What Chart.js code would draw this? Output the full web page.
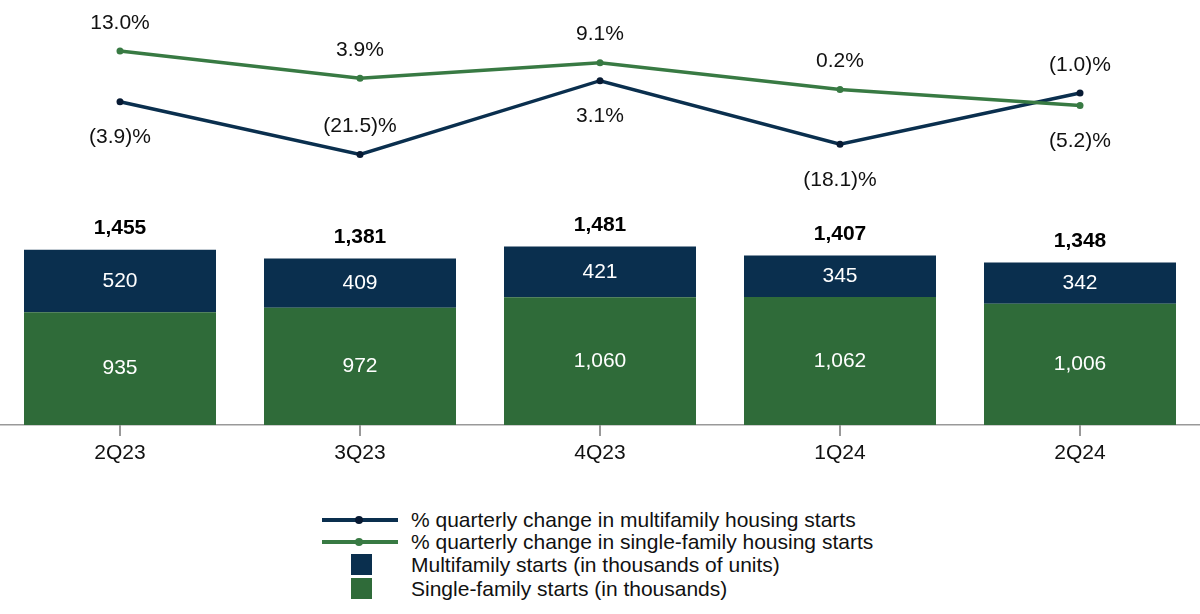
<!DOCTYPE html>
<html>
<head>
<meta charset="utf-8">
<script src="https://cdn.jsdelivr.net/npm/chart.js@4.4.1/dist/chart.umd.min.js"></script>
<style>
  html, body { margin: 0; padding: 0; background: #fff; }
  #wrap { position: relative; width: 1200px; height: 614px; font-family: 'Liberation Sans', Arial, sans-serif; }
  #chartBox { position: absolute; left: 0; top: 0; width: 1200px; height: 464px; }
  .lg-row { position: absolute; left: 0; height: 24px; width: 1200px; }
  .lg-text { position: absolute; left: 411px; top: 0; font-size: 21px; line-height: 24px; color: #111; white-space: nowrap; }
  .lg-line { position: absolute; left: 322px; top: 10px; width: 76px; height: 4px; }
  .lg-dot { position: absolute; left: 33px; top: -2px; width: 8px; height: 8px; border-radius: 50%; }
  .lg-box { position: absolute; left: 351px; top: 1px; width: 21px; height: 21px; }
</style>
</head>
<body>
<div id="wrap">
  <div id="chartBox"><canvas id="c"></canvas></div>
  <div id="legend"></div>
</div>
<script>
const categories = ['2Q23', '3Q23', '4Q23', '1Q24', '2Q24'];
const singleFamilyStarts = [935, 972, 1060, 1062, 1006];
const multifamilyStarts = [520, 409, 421, 345, 342];
const totalStarts = [1455, 1381, 1481, 1407, 1348];
const multifamilyChangePct = [-3.9, -21.5, 3.1, -18.1, -1.0];
const singleFamilyChangePct = [13.0, 3.9, 9.1, 0.2, -5.2];
// label placement for percentage labels
const multiLabelPos = ['below', 'above', 'below', 'below', 'above'];
const singleLabelPos = ['above', 'above', 'above', 'above', 'below'];

const NAVY = '#0A2F4E';
const NAVY_PT = '#071A33';
const GREEN = '#2F6B39';
const GREEN_LINE = '#387A43';
const AXIS = '#999999';
const FONT = "'Liberation Sans', Arial, sans-serif";
const FS = 21;

function fmtPct(v) {
  return v < 0 ? '(' + Math.abs(v).toFixed(1) + ')%' : v.toFixed(1) + '%';
}
function fmtNum(v) { return v.toLocaleString('en-US'); }

const labelPlugin = {
  id: 'labels',
  afterDraw(chart) {
    const ctx = chart.ctx;
    const bottom = chart.chartArea.bottom;
    ctx.save();
    ctx.strokeStyle = AXIS;
    ctx.lineWidth = 2;
    chart.getDatasetMeta(0).data.forEach(el => {
      const x = Math.round(el.x);
      ctx.beginPath();
      ctx.moveTo(x, bottom);
      ctx.lineTo(x, bottom + 11);
      ctx.stroke();
    });
    ctx.restore();
  },
  afterDatasetsDraw(chart) {
    const ctx = chart.ctx;
    ctx.save();
    ctx.textAlign = 'center';
    ctx.textBaseline = 'middle';
    [0, 1].forEach(di => {
      const meta = chart.getDatasetMeta(di);
      const data = chart.data.datasets[di].data;
      meta.data.forEach((el, i) => {
        const p = el.getProps(['x', 'y', 'base'], true);
        ctx.font = FS + 'px ' + FONT;
        ctx.fillStyle = '#ffffff';
        ctx.fillText(fmtNum(data[i]), p.x, (p.y + p.base) / 2);
      });
    });
    const topMeta = chart.getDatasetMeta(1);
    topMeta.data.forEach((el, i) => {
      const p = el.getProps(['x', 'y'], true);
      ctx.font = 'bold ' + FS + 'px ' + FONT;
      ctx.fillStyle = '#000000';
      ctx.fillText(fmtNum(totalStarts[i]), p.x, p.y - 21);
    });
    const lineSets = [[2, multiLabelPos], [3, singleLabelPos]];
    lineSets.forEach(([di, pos]) => {
      const meta = chart.getDatasetMeta(di);
      const data = chart.data.datasets[di].data;
      meta.data.forEach((el, i) => {
        const p = el.getProps(['x', 'y'], true);
        ctx.font = FS + 'px ' + FONT;
        ctx.fillStyle = '#111111';
        const dy = pos[i] === 'above' ? -28 : 36;
        ctx.fillText(fmtPct(data[i]), p.x, p.y + dy);
      });
    });
    ctx.restore();
  }
};

new Chart(document.getElementById('c'), {
  data: {
    labels: categories,
    datasets: [
      { type: 'bar', label: 'Single-family starts (in thousands)', data: singleFamilyStarts,
        backgroundColor: GREEN, yAxisID: 'y', order: 2, barPercentage: 0.8, categoryPercentage: 1.0 },
      { type: 'bar', label: 'Multifamily starts (in thousands of units)', data: multifamilyStarts,
        backgroundColor: NAVY, yAxisID: 'y', order: 3, barPercentage: 0.8, categoryPercentage: 1.0 },
      { type: 'line', label: '% quarterly change in multifamily housing starts', data: multifamilyChangePct,
        borderColor: NAVY, borderWidth: 3.5, pointRadius: 3.5, pointBackgroundColor: NAVY_PT, pointBorderWidth: 0,
        yAxisID: 'y2', order: 1, tension: 0 },
      { type: 'line', label: '% quarterly change in single-family housing starts', data: singleFamilyChangePct,
        borderColor: GREEN_LINE, borderWidth: 3.5, pointRadius: 3.5, pointBackgroundColor: GREEN_LINE, pointBorderWidth: 0,
        yAxisID: 'y2', order: 0, tension: 0 }
    ]
  },
  options: {
    responsive: true,
    maintainAspectRatio: false,
    animation: false,
    layout: { padding: 0, autoPadding: false },
    plugins: { legend: { display: false }, tooltip: { enabled: false } },
    scales: {
      x: {
        stacked: true,
        offset: true,
        grid: { display: false, drawTicks: false },
        border: { display: true, color: AXIS, width: 1.5 },
        ticks: { color: '#111', font: { size: FS, family: FONT }, padding: 16 },
        afterFit(s) { s.height = 39; }
      },
      y: { stacked: true, display: false, min: 0, max: 3527 },
      y2: { display: false, min: -111.667, max: 30 }
    }
  },
  plugins: [labelPlugin]
});

const legendItems = [
  { kind: 'line', color: NAVY, dot: NAVY_PT, text: '% quarterly change in multifamily housing starts', y: 508 },
  { kind: 'line', color: GREEN_LINE, dot: GREEN_LINE, text: '% quarterly change in single-family housing starts', y: 530 },
  { kind: 'box', color: NAVY, text: 'Multifamily starts (in thousands of units)', y: 553 },
  { kind: 'box', color: GREEN, text: 'Single-family starts (in thousands)', y: 577 }
];
const lg = document.getElementById('legend');
legendItems.forEach(it => {
  const row = document.createElement('div');
  row.className = 'lg-row';
  row.style.top = it.y + 'px';
  if (it.kind === 'line') {
    const l = document.createElement('div');
    l.className = 'lg-line';
    l.style.background = it.color;
    const d = document.createElement('div');
    d.className = 'lg-dot';
    d.style.background = it.dot;
    l.appendChild(d);
    row.appendChild(l);
  } else {
    const b = document.createElement('div');
    b.className = 'lg-box';
    b.style.background = it.color;
    row.appendChild(b);
  }
  const t = document.createElement('div');
  t.className = 'lg-text';
  t.textContent = it.text;
  row.appendChild(t);
  lg.appendChild(row);
});
</script>
</body>
</html>
